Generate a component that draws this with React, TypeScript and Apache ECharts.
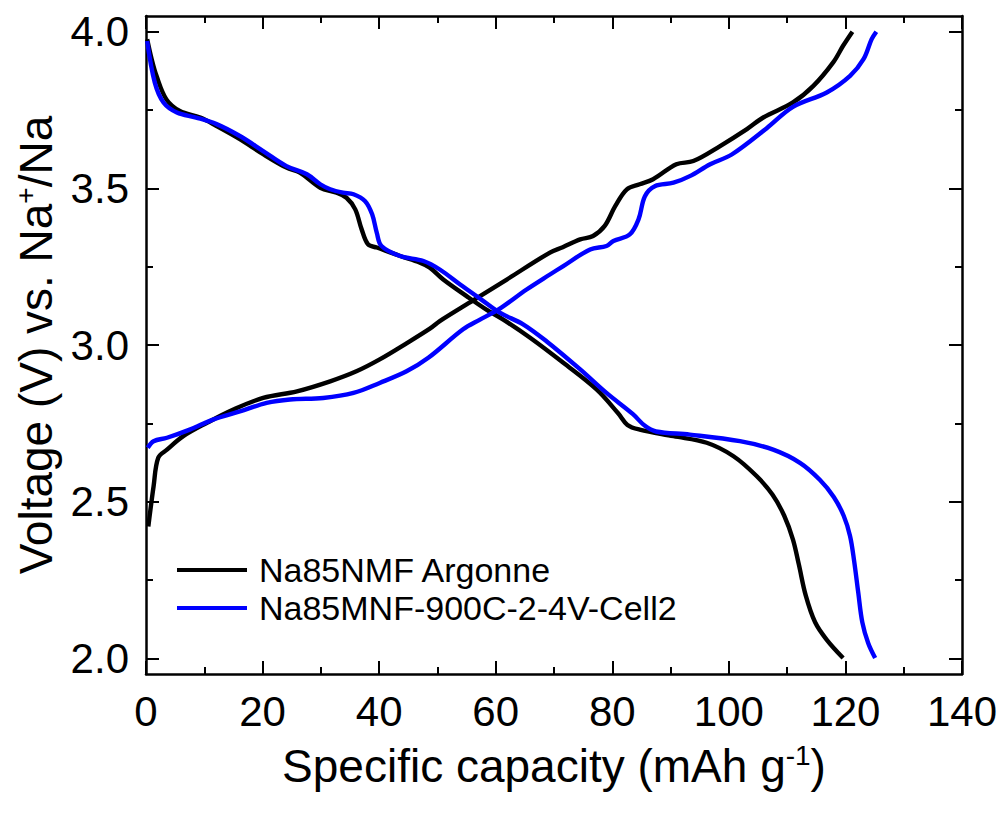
import React, { useEffect, useRef } from "react";
import * as echarts from "echarts";

const FONT = "'Liberation Sans', Arial, Helvetica, sans-serif";

// Series names
const nameBlack = "Na85NMF Argonne";
const nameBlue = "Na85MNF-900C-2-4V-Cell2";

// Axis ticks
const xMin = 0;
const xMax = 140;
const xInterval = 20;
const yMin = 1.95;
const yMax = 4.05;
const yMajorTicks = [2.0, 2.5, 3.0, 3.5, 4.0];
const yMinorTicks = [2.25, 2.75, 3.25, 3.75];

// Black (Na85NMF Argonne) discharge
const blackDisCap = [0.2, 1.0, 1.8, 3.5, 5.8, 9.3, 12.1, 16.1, 20.1, 24.1, 26.4, 29.9, 32.7, 34.4, 35.9, 37.0, 38.1, 39.6, 43.6, 47.0, 48.7, 51.0, 55.0, 58.4, 61.3, 65.9, 71.6, 77.3, 81.0, 82.6, 84.7, 90.5, 96.2, 100.8, 104.8, 107.5, 109.5, 111.0, 112.0, 113.2, 114.8, 116.8, 119.6];
const blackDisV = [3.976, 3.91, 3.859, 3.784, 3.747, 3.726, 3.699, 3.657, 3.609, 3.566, 3.550, 3.502, 3.486, 3.470, 3.433, 3.369, 3.321, 3.311, 3.284, 3.263, 3.247, 3.209, 3.156, 3.113, 3.081, 3.023, 2.943, 2.858, 2.782, 2.745, 2.730, 2.709, 2.688, 2.645, 2.581, 2.522, 2.455, 2.379, 2.300, 2.200, 2.115, 2.059, 2.001];

// Black charge
const blackChgCap = [0.4, 1.3, 2.1, 3.6, 6.4, 10.4, 15.0, 20.1, 25.9, 31.6, 36.1, 40.1, 44.5, 48.7, 50.4, 56.2, 61.9, 69.3, 71.5, 74.5, 76.7, 78.7, 80.5, 82.5, 84.7, 87.0, 91.0, 93.9, 98.5, 103.1, 105.9, 111.0, 114.5, 117.9, 119.6, 121.2];
const blackChgV = [2.421, 2.549, 2.640, 2.666, 2.709, 2.751, 2.794, 2.831, 2.852, 2.884, 2.916, 2.954, 3.003, 3.052, 3.076, 3.143, 3.209, 3.295, 3.312, 3.337, 3.348, 3.380, 3.443, 3.497, 3.513, 3.529, 3.577, 3.587, 3.635, 3.689, 3.726, 3.774, 3.827, 3.902, 3.955, 4.0];

// Blue (Na85MNF-900C-2-4V-Cell2) discharge
const blueDisCap = [0.2, 1.5, 3.0, 5.3, 8.6, 12.1, 16.1, 20.1, 24.1, 27.6, 29.9, 31.6, 33.8, 35.6, 37.6, 38.8, 39.6, 40.4, 43.6, 47.6, 50.4, 53.9, 57.3, 60.7, 64.7, 68.7, 74.5, 79.0, 83.5, 85.6, 87.5, 93.3, 101.9, 107.6, 112.2, 115.6, 118.0, 119.7, 120.8, 121.5, 122.2, 122.9, 123.9, 125.1];
const blueDisV = [3.97, 3.838, 3.774, 3.742, 3.726, 3.705, 3.667, 3.619, 3.571, 3.545, 3.513, 3.497, 3.486, 3.481, 3.459, 3.417, 3.358, 3.316, 3.284, 3.268, 3.241, 3.193, 3.148, 3.103, 3.066, 3.012, 2.922, 2.847, 2.780, 2.742, 2.724, 2.714, 2.693, 2.666, 2.624, 2.570, 2.515, 2.455, 2.390, 2.310, 2.210, 2.115, 2.049, 2.001];

// Blue charge
const blueChgCap = [0.3, 1.3, 3.6, 7.5, 11.5, 16.1, 20.7, 24.7, 30.4, 35.6, 40.1, 44.7, 48.5, 54.4, 57.3, 60.7, 65.3, 69.3, 71.6, 76.2, 79.0, 80.2, 83.0, 84.5, 85.6, 87.3, 90.5, 93.3, 96.8, 100.5, 106.5, 111.0, 116.8, 120.8, 123.1, 124.5, 125.3];
const blueChgV = [2.672, 2.693, 2.704, 2.730, 2.762, 2.788, 2.815, 2.826, 2.831, 2.847, 2.879, 2.916, 2.960, 3.050, 3.081, 3.116, 3.177, 3.225, 3.252, 3.305, 3.316, 3.332, 3.353, 3.401, 3.475, 3.507, 3.518, 3.539, 3.577, 3.608, 3.692, 3.760, 3.806, 3.859, 3.912, 3.976, 4.0];

const zip = (xs: number[], ys: number[]) => xs.map((x, i) => [x, ys[i]]);

export default function App() {
  const ref = useRef<HTMLDivElement>(null);
  useEffect(() => {
    if (!ref.current) return;
    const chart = echarts.init(ref.current, null, { renderer: "svg" });
    const black = "#000000";
    const blue = "#0000ff";
    const lw = 4.4;
    const mkLine = (name: string, color: string, data: number[][]) => ({
      name,
      type: "line",
      data,
      showSymbol: false,
      symbol: "none",
      smooth: 0.35,
      clip: false,
      lineStyle: { color, width: lw, cap: "butt", join: "round" },
      itemStyle: { color },
      xAxisIndex: 0,
      yAxisIndex: 0,
    });
    const tickStyle = { color: "#000", width: 2 };
    const axisLine = { show: true, lineStyle: { color: "#000", width: 2.5 } };
    const xCommon = {
      type: "value",
      min: xMin,
      max: xMax,
      interval: xInterval,
      splitLine: { show: false },
      minorSplitLine: { show: false },
      axisLine,
      axisTick: { show: true, inside: true, length: 13, lineStyle: tickStyle },
      minorTick: { show: true, splitNumber: 2, length: 7, lineStyle: tickStyle },
    };
    const yCommon = {
      type: "value",
      min: yMin,
      max: yMax,
      splitLine: { show: false },
    };
    chart.setOption({
      animation: false,
      backgroundColor: "#ffffff",
      grid: { left: 146, right: 42, top: 16, bottom: 139, containLabel: false },
      legend: {
        orient: "vertical",
        left: 172,
        top: 548,
        icon: "rect",
        itemWidth: 70,
        itemHeight: 4,
        itemGap: 4,
        data: [nameBlack, nameBlue],
        textStyle: { fontSize: 34, color: "#000", fontFamily: FONT, padding: [0, 0, 0, 7], lineHeight: 34 },
      },
      xAxis: [
        {
          ...xCommon,
          position: "bottom",
          axisLabel: { show: true, fontSize: 42, color: "#000", fontFamily: FONT, margin: 16 },
        },
        {
          ...xCommon,
          position: "top",
          axisLabel: { show: false },
        },
      ],
      yAxis: [
        {
          ...yCommon,
          position: "left",
          axisLine,
          axisTick: { show: true, inside: true, length: 13, lineStyle: tickStyle, customValues: yMajorTicks },
          axisLabel: {
            show: true,
            customValues: yMajorTicks,
            formatter: (v: number) => v.toFixed(1),
            fontSize: 42,
            color: "#000",
            fontFamily: FONT,
            margin: 17,
          },
        },
        {
          ...yCommon,
          position: "left",
          axisLine: { show: false },
          axisTick: { show: true, inside: true, length: 7, lineStyle: tickStyle, customValues: yMinorTicks },
          axisLabel: { show: false, customValues: yMinorTicks },
        },
        {
          ...yCommon,
          position: "right",
          axisLine,
          axisTick: { show: true, inside: true, length: 13, lineStyle: tickStyle, customValues: yMajorTicks },
          axisLabel: { show: false, customValues: yMajorTicks },
        },
        {
          ...yCommon,
          position: "right",
          axisLine: { show: false },
          axisTick: { show: true, inside: true, length: 7, lineStyle: tickStyle, customValues: yMinorTicks },
          axisLabel: { show: false, customValues: yMinorTicks },
        },
      ],
      graphic: [
        {
          type: "text",
          x: 554,
          y: 766,
          style: {
            text: "Specific capacity (mAh g{sup|-1})",
            fill: "#000",
            font: `46px ${FONT}`,
            textAlign: "center",
            textVerticalAlign: "middle",
            rich: {
              sup: { fontSize: 28, fontFamily: FONT, fill: "#000", verticalAlign: "top", padding: [0, 0, 22, 0] },
            },
          },
        },
        {
          type: "text",
          x: 36,
          y: 345,
          rotation: Math.PI / 2,
          style: {
            text: "Voltage (V) vs. Na{sup|+}/Na",
            fill: "#000",
            font: `46px ${FONT}`,
            textAlign: "center",
            textVerticalAlign: "middle",
            rich: {
              sup: { fontSize: 28, fontFamily: FONT, fill: "#000", verticalAlign: "top", padding: [0, 0, 22, 0] },
            },
          },
        },
      ],
      series: [
        mkLine(nameBlack, black, zip(blackDisCap, blackDisV)),
        mkLine(nameBlack, black, zip(blackChgCap, blackChgV)),
        mkLine(nameBlue, blue, zip(blueDisCap, blueDisV)),
        mkLine(nameBlue, blue, zip(blueChgCap, blueChgV)),
      ],
    });
    return () => chart.dispose();
  }, []);
  return (
    <div
      ref={ref}
      style={{ position: "absolute", left: 0, top: 0, width: 1004, height: 813, background: "#fff" }}
    />
  );
}
